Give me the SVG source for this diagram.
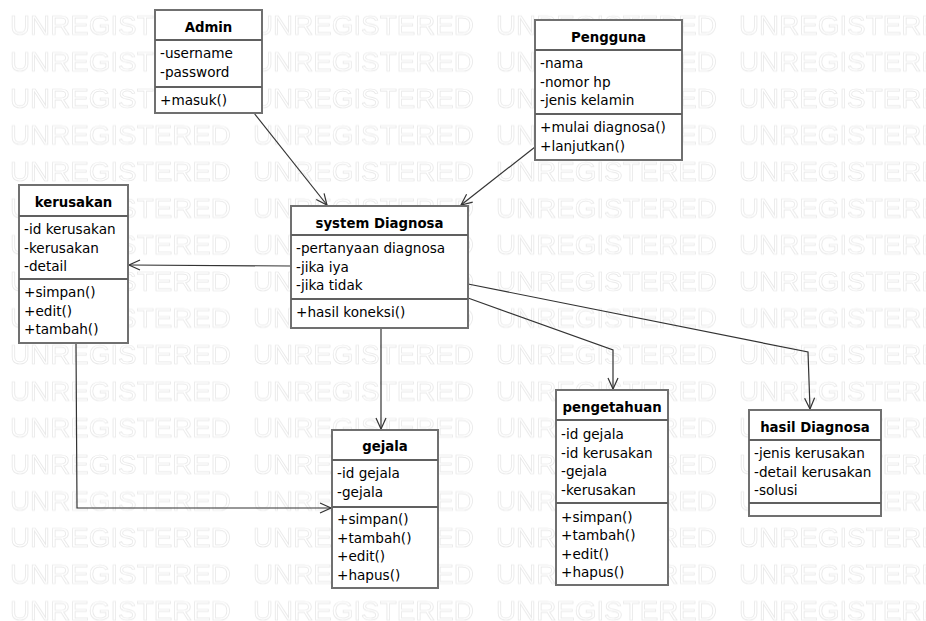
<svg xmlns="http://www.w3.org/2000/svg" width="926" height="621" viewBox="0 0 926 621">
<defs>
<style>
.wm{font-family:"Liberation Sans",Arial,sans-serif;font-size:27.8px;fill:none;stroke:#e6e6e6;stroke-width:0.7}
.box{fill:#fff;stroke:#707070;stroke-width:2}
.div{stroke:#606060;stroke-width:2}
.t{font-family:"DejaVu Sans",sans-serif;font-size:13.3px;font-weight:bold;fill:#000;text-anchor:middle}
.a{font-family:"DejaVu Sans",sans-serif;font-size:13.6px;fill:#000}
.c{fill:none;stroke:#333;stroke-width:1.2}
</style>
<pattern id="wmp" patternUnits="userSpaceOnUse" x="0" y="0" width="243" height="36.6">
<text class="wm" x="10" y="35">UNREGISTERED</text>
</pattern>
<marker id="arr" markerUnits="userSpaceOnUse" markerWidth="14" markerHeight="14" viewBox="-12 -7 14 14" refX="0" refY="0" orient="auto">
<path d="M-11,-5 L0,0 L-11,5" fill="none" stroke="#333" stroke-width="1.2"/>
</marker>
</defs>
<rect width="926" height="621" fill="#fff"/>
<rect width="926" height="621" fill="url(#wmp)"/>
<g id="connectors">
<path class="c" d="M254,113 L327,205" marker-end="url(#arr)"/>
<path class="c" d="M535,147 L461,205" marker-end="url(#arr)"/>
<path class="c" d="M291,266 L129,265" marker-end="url(#arr)"/>
<path class="c" d="M381,328 L381,429" marker-end="url(#arr)"/>
<path class="c" d="M76,343 L77,508 L331,508" marker-end="url(#arr)"/>
<path class="c" d="M468,298 L613,350 L613,389" marker-end="url(#arr)"/>
<path class="c" d="M468,284 L808,352 L810,409" marker-end="url(#arr)"/>
</g>
<g id="admin">
<rect class="box" x="155" y="10" width="107" height="103"/>
<line class="div" x1="155" y1="40" x2="262" y2="40"/>
<line class="div" x1="155" y1="87" x2="262" y2="87"/>
<text class="t" x="208.5" y="32">Admin</text>
<text class="a" x="160" y="58">-username</text>
<text class="a" x="160" y="76.5">-password</text>
<text class="a" x="160" y="105">+masuk()</text>
</g>
<g id="pengguna">
<rect class="box" x="535" y="20" width="147" height="140"/>
<line class="div" x1="535" y1="50" x2="682" y2="50"/>
<line class="div" x1="535" y1="114" x2="682" y2="114"/>
<text class="t" x="608.5" y="42">Pengguna</text>
<text class="a" x="540" y="68">-nama</text>
<text class="a" x="540" y="86.5">-nomor hp</text>
<text class="a" x="540" y="105">-jenis kelamin</text>
<text class="a" x="540" y="132">+mulai diagnosa()</text>
<text class="a" x="540" y="150.5">+lanjutkan()</text>
</g>
<g id="kerusakan">
<rect class="box" x="19" y="185" width="109" height="158"/>
<line class="div" x1="19" y1="216" x2="128" y2="216"/>
<line class="div" x1="19" y1="279" x2="128" y2="279"/>
<text class="t" x="73.5" y="207">kerusakan</text>
<text class="a" x="24" y="234">-id kerusakan</text>
<text class="a" x="24" y="252.5">-kerusakan</text>
<text class="a" x="24" y="271">-detail</text>
<text class="a" x="24" y="297">+simpan()</text>
<text class="a" x="24" y="315.7">+edit()</text>
<text class="a" x="24" y="334.4">+tambah()</text>
</g>
<g id="system-diagnosa">
<rect class="box" x="291" y="206" width="177" height="122"/>
<line class="div" x1="291" y1="235" x2="468" y2="235"/>
<line class="div" x1="291" y1="299" x2="468" y2="299"/>
<text class="t" x="379.5" y="228">system Diagnosa</text>
<text class="a" x="296" y="253">-pertanyaan diagnosa</text>
<text class="a" x="296" y="271.5">-jika iya</text>
<text class="a" x="296" y="290">-jika tidak</text>
<text class="a" x="296" y="317">+hasil koneksi()</text>
</g>
<g id="gejala">
<rect class="box" x="332" y="430" width="106" height="158"/>
<line class="div" x1="332" y1="460" x2="438" y2="460"/>
<line class="div" x1="332" y1="507" x2="438" y2="507"/>
<text class="t" x="385" y="451">gejala</text>
<text class="a" x="337" y="478">-id gejala</text>
<text class="a" x="337" y="496.5">-gejala</text>
<text class="a" x="337" y="524">+simpan()</text>
<text class="a" x="337" y="542.5">+tambah()</text>
<text class="a" x="337" y="561">+edit()</text>
<text class="a" x="337" y="579.5">+hapus()</text>
</g>
<g id="pengetahuan">
<rect class="box" x="556" y="390" width="112" height="195"/>
<line class="div" x1="556" y1="420" x2="668" y2="420"/>
<line class="div" x1="556" y1="503" x2="668" y2="503"/>
<text class="t" x="612" y="412">pengetahuan</text>
<text class="a" x="561" y="439">-id gejala</text>
<text class="a" x="561" y="457.5">-id kerusakan</text>
<text class="a" x="561" y="476">-gejala</text>
<text class="a" x="561" y="494.5">-kerusakan</text>
<text class="a" x="561" y="521.5">+simpan()</text>
<text class="a" x="561" y="540">+tambah()</text>
<text class="a" x="561" y="558.5">+edit()</text>
<text class="a" x="561" y="577">+hapus()</text>
</g>
<g id="hasil-diagnosa">
<rect class="box" x="749" y="410" width="132" height="106"/>
<line class="div" x1="749" y1="440" x2="881" y2="440"/>
<line class="div" x1="749" y1="503" x2="881" y2="503"/>
<text class="t" x="815" y="432">hasil Diagnosa</text>
<text class="a" x="754" y="458">-jenis kerusakan</text>
<text class="a" x="754" y="476.5">-detail kerusakan</text>
<text class="a" x="754" y="495">-solusi</text>
</g>
</svg>
